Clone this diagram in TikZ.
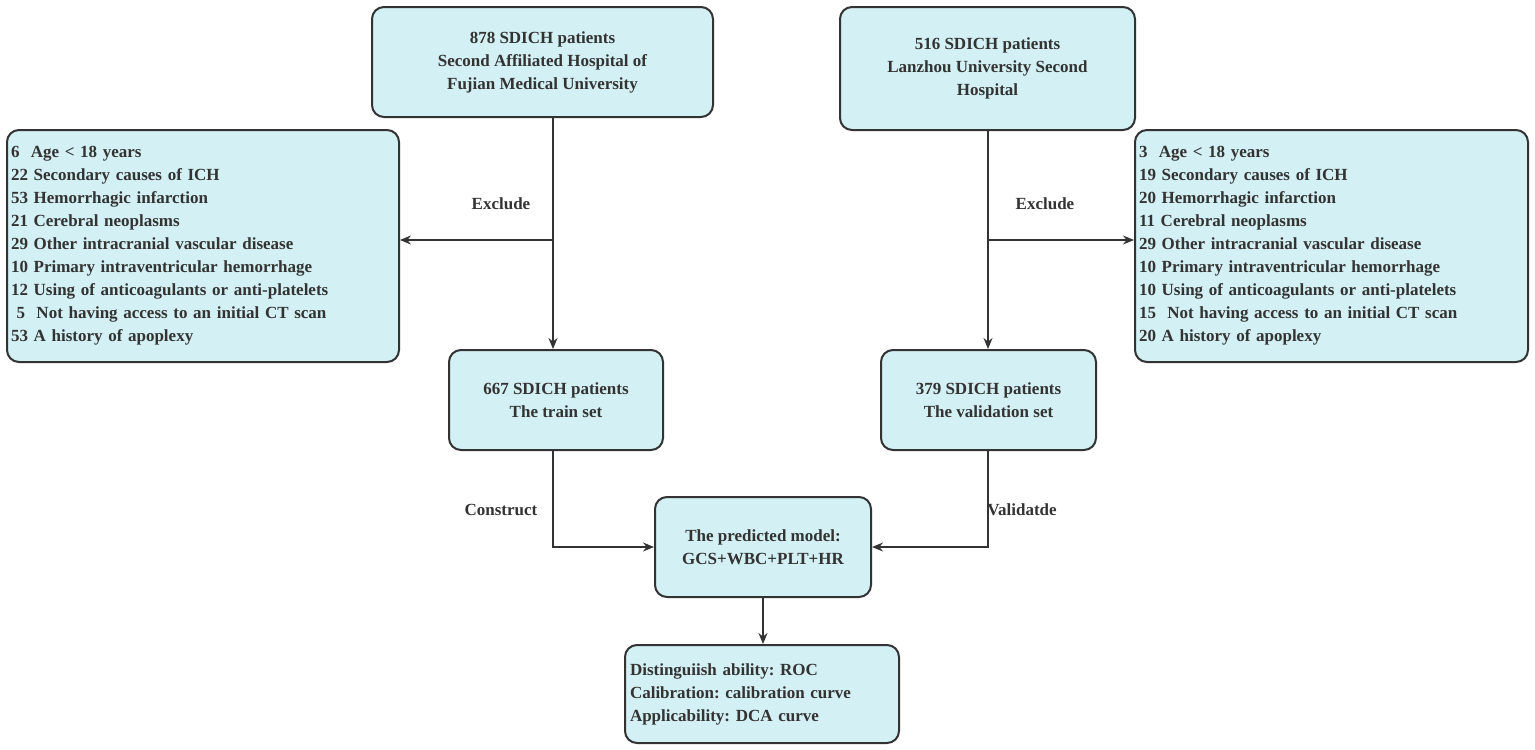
\documentclass[tikz,border=0pt]{standalone}
\usepackage{fontspec}
\setmainfont{Liberation Serif}
\usetikzlibrary{arrows.meta}
\definecolor{boxfill}{HTML}{D3F0F4}
\definecolor{edge}{HTML}{333333}
\begin{document}
\frenchspacing
\begin{tikzpicture}[x=1pt,y=-1pt,
  box/.style={draw=edge,fill=boxfill,line width=2pt,rounded corners=12pt,inner sep=0pt,font=\fontsize{17}{23}\selectfont\bfseries,text=edge},
  arr/.style={draw=edge,line width=1.6pt,-{Stealth[length=11pt,width=9pt]}},
  lbl/.style={font=\fontsize{17}{20}\selectfont\bfseries,text=edge}]
\useasboundingbox (0,0) rectangle (1535,750);
\node[box,minimum width=341pt,minimum height=110pt,align=center] (tl) at (542.5,62) {878 SDICH patients\\Second Affiliated Hospital of\\Fujian Medical University};
\node[box,minimum width=295pt,minimum height=123pt,align=center] (tr) at (987.5,68.5) {516 SDICH patients\\Lanzhou University Second\\Hospital};
\node[box,minimum width=392pt,minimum height=232pt,align=left,text width=384pt] (el) at (203,246) {6~~Age < 18 years\\22 Secondary causes of ICH\\53 Hemorrhagic infarction\\21 Cerebral neoplasms\\29 Other intracranial vascular disease\\10 Primary intraventricular hemorrhage\\12 Using of anticoagulants or anti-platelets\\~5~~Not having access to an initial CT scan\\53 A history of apoplexy};
\node[box,minimum width=393pt,minimum height=232pt,align=left,text width=385pt] (er) at (1331.5,246) {3~~Age < 18 years\\19 Secondary causes of ICH\\20 Hemorrhagic infarction\\11 Cerebral neoplasms\\29 Other intracranial vascular disease\\10 Primary intraventricular hemorrhage\\10 Using of anticoagulants or anti-platelets\\15~~Not having access to an initial CT scan\\20 A history of apoplexy};
\node[box,minimum width=214pt,minimum height=100pt,align=center] (train) at (556,400) {667 SDICH patients\\The train set};
\node[box,minimum width=215pt,minimum height=100pt,align=center] (val) at (988.5,400) {379 SDICH patients\\The validation set};
\node[box,minimum width=216pt,minimum height=100pt,align=center] (model) at (763,547) {The predicted model:\\GCS+WBC+PLT+HR};
\node[box,minimum width=274pt,minimum height=98pt,align=left,text width=264pt] (out) at (762,694) {Distinguiish ability: ROC\\Calibration: calibration curve\\Applicability: DCA curve};
\coordinate (jl) at (553,240);
\coordinate (jr) at (988,240);
\draw[arr] (tl.south -| jl) -- (train.north -| jl);
\draw[arr] (jl) -- (jl -| el.east);
\draw[arr] (tr.south -| jr) -- (val.north -| jr);
\draw[arr] (jr) -- (jr -| er.west);
\draw[arr] (train.south -| jl) |- (model.west);
\draw[arr] (val.south -| jr) |- (model.east);
\draw[arr] (model.south) -- (out.north -| model.south);
\node[lbl] (ex1) at (501,204) {Exclude};
\node[lbl] (ex2) at (1045,204) {Exclude};
\node[lbl] (con) at (501,510) {Construct};
\node[lbl] (vd) at (1022,510) {Validatde};
\end{tikzpicture}
\end{document}
